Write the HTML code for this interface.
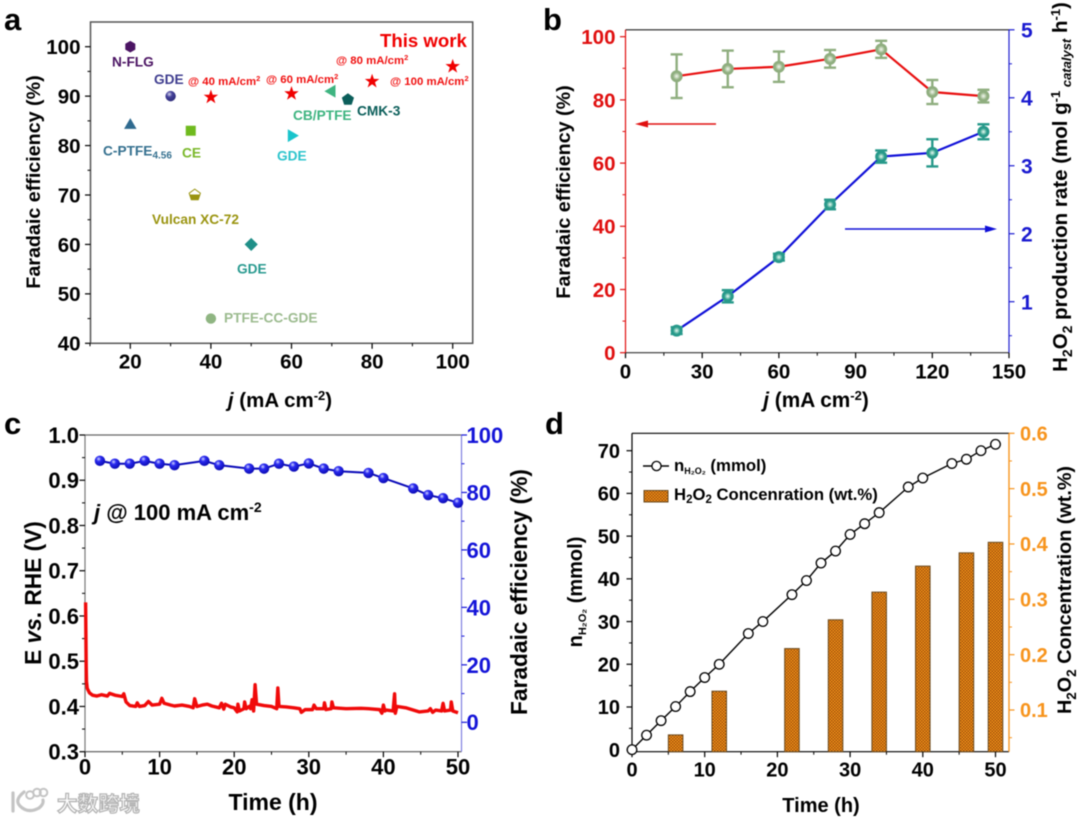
<!DOCTYPE html>
<html lang="en">
<head>
<meta charset="utf-8">
<title>H2O2 electrosynthesis performance figure</title>
<style>
html,body{margin:0;padding:0;background:#fff;}
#figure{display:block;width:1080px;height:822px;filter:blur(0.4px);font-family:"Liberation Sans","Noto Sans CJK SC",sans-serif;font-weight:bold;}
</style>
</head>
<body>
<svg id="figure" xmlns="http://www.w3.org/2000/svg" width="1080" height="822" viewBox="0 0 1080 822">
  <defs>
    <radialGradient id="ballBlue" cx="38%" cy="32%" r="70%"><stop offset="0" stop-color="#cfd4ff"/><stop offset="0.35" stop-color="#2a2af0"/><stop offset="1" stop-color="#0a0ab0"/></radialGradient>
    <radialGradient id="ballIndigo" cx="38%" cy="32%" r="70%"><stop offset="0" stop-color="#d8d8f0"/><stop offset="0.4" stop-color="#45429a"/><stop offset="1" stop-color="#2c2a78"/></radialGradient>
    <radialGradient id="ballSage" cx="50%" cy="50%" r="50%"><stop offset="0" stop-color="#f4f8f0"/><stop offset="0.3" stop-color="#c5d6ba"/><stop offset="0.62" stop-color="#8fae7f"/><stop offset="1" stop-color="#8fae7f"/></radialGradient>
    <radialGradient id="ballTeal" cx="50%" cy="50%" r="50%"><stop offset="0" stop-color="#eefaf6"/><stop offset="0.28" stop-color="#8fd0bf"/><stop offset="0.6" stop-color="#27998a"/><stop offset="1" stop-color="#27998a"/></radialGradient>
    <linearGradient id="halfFill" x1="0" y1="0" x2="0" y2="1"><stop offset="0.5" stop-color="#fff"/><stop offset="0.5" stop-color="#9a9410"/></linearGradient>
    <pattern id="barHatch" width="3" height="3" patternUnits="userSpaceOnUse"><rect width="3" height="3" fill="#f5951a"/><rect width="1.5" height="1.5" fill="#a0500a"/><rect x="1.5" y="1.5" width="1.5" height="1.5" fill="#a0500a"/></pattern>
  </defs>

  <g id="panel-a">
    <text x="4" y="30" font-size="31" fill="#000">a</text>
    <rect x="90.5" y="22" width="382.2" height="321.3" fill="none" stroke="#555" stroke-width="1.5"/>
    <text transform="translate(40,182) rotate(-90)" text-anchor="middle" font-size="19.7" fill="#000">Faradaic efficiency (%)</text>
    <text x="280" y="407" text-anchor="middle" font-size="20.5" fill="#000"><tspan font-style="italic">j</tspan> (mA cm<tspan dy="-7" font-size="13">-2</tspan><tspan dy="7">)</tspan></text>
    <g font-size="13.7">
      <text x="112" y="66.5" fill="#4b1463">N-FLG</text>
      <text x="154" y="84" fill="#3f3d8f">GDE</text>
      <text x="103" y="155.5" fill="#35708f">C-PTFE<tspan dy="3" font-size="10">4.56</tspan></text>
      <text x="182" y="157.5" fill="#7ab82a">CE</text>
      <text x="277" y="160.5" fill="#2dc4cc">GDE</text>
      <text x="152" y="224" fill="#9a9410">Vulcan XC-72</text>
      <text x="237" y="273.5" fill="#2a9a90">GDE</text>
      <text x="224" y="322.5" fill="#9cbb8f">PTFE-CC-GDE</text>
      <text x="293" y="120" fill="#3eb480">CB/PTFE</text>
      <text x="357" y="115.5" fill="#0b5e5a">CMK-3</text>
    </g>
    <text x="380" y="47" font-size="18.6" fill="#f00000">This work</text>
    <g font-size="11.4" fill="#f01010">
      <text x="188" y="85">@ 40 mA/cm<tspan dy="-4" font-size="7.5">2</tspan></text>
      <text x="266" y="83">@ 60 mA/cm<tspan dy="-4" font-size="7.5">2</tspan></text>
      <text x="336" y="64">@ 80 mA/cm<tspan dy="-4" font-size="7.5">2</tspan></text>
      <text x="390" y="85">@ 100 mA/cm<tspan dy="-4" font-size="7.5">2</tspan></text>
    </g>
  </g>

  <g id="panel-b">
    <text x="543" y="30" font-size="31" fill="#000">b</text>
    <line x1="625.5" y1="29.8" x2="1009" y2="29.8" stroke="#222" stroke-width="1.2"/>
    <line x1="625.5" y1="352.7" x2="1009" y2="352.7" stroke="#333" stroke-width="1.2"/>
    <line x1="625.5" y1="29.8" x2="625.5" y2="352.7" stroke="#e01010" stroke-width="1.2"/>
    <line x1="1009" y1="29.8" x2="1009" y2="352.7" stroke="#2020d0" stroke-width="1.2"/>
    <text transform="translate(570,192) rotate(-90)" text-anchor="middle" font-size="19.7" fill="#000">Faradaic efficiency (%)</text>
    <text x="816" y="407" text-anchor="middle" font-size="20.8" fill="#000"><tspan font-style="italic">j</tspan> (mA cm<tspan dy="-7" font-size="13">-2</tspan><tspan dy="7">)</tspan></text>
    <text transform="translate(1067,187) rotate(-90)" text-anchor="middle" font-size="20.5" fill="#000">H<tspan dy="5" font-size="14">2</tspan><tspan dy="-5">O</tspan><tspan dy="5" font-size="14">2</tspan><tspan dy="-5"> production rate (mol g</tspan><tspan dy="-7" font-size="13">-1</tspan><tspan dy="11" font-size="13" font-style="italic"> catalyst</tspan><tspan dy="-4"> h</tspan><tspan dy="-7" font-size="13">-1</tspan><tspan dy="7">)</tspan></text>
    <g>
      <line x1="716" y1="124" x2="645" y2="124" stroke="#e01010" stroke-width="1.5"/>
      <polygon points="635,124 648,120.5 648,127.5" fill="#e01010"/>
    </g>
    <g>
      <line x1="845" y1="229" x2="988" y2="229" stroke="#1010d8" stroke-width="1.5"/>
      <polygon points="997,229 985,225.5 985,232.5" fill="#1010d8"/>
    </g>
  </g>

  <g id="panel-c">
    <text x="4" y="434" font-size="31" fill="#000">c</text>
    <line x1="85" y1="435" x2="461.5" y2="435" stroke="#666" stroke-width="1.2"/>
    <line x1="85" y1="751.7" x2="461.5" y2="751.7" stroke="#555" stroke-width="1.2"/>
    <line x1="85" y1="435" x2="85" y2="751.7" stroke="#777" stroke-width="1.2"/>
    <line x1="461.5" y1="435" x2="461.5" y2="751.7" stroke="#8080e0" stroke-width="1.2"/>
    <text transform="translate(41,593) rotate(-90)" text-anchor="middle" font-size="22.7" fill="#000">E <tspan font-style="italic">vs</tspan>. RHE (V)</text>
    <text transform="translate(527,592) rotate(-90)" text-anchor="middle" font-size="22.7" fill="#000">Faradaic efficiency (%)</text>
    <text x="273" y="810" text-anchor="middle" font-size="23" fill="#000">Time (h)</text>
    <text x="94" y="520" font-size="22" fill="#000"><tspan font-style="italic">j</tspan> @ 100 mA cm<tspan dy="-8" font-size="14">-2</tspan></text>
  </g>

  <g id="panel-d">
    <text x="545" y="434" font-size="31" fill="#000">d</text>
    <line x1="632" y1="433.3" x2="1009" y2="433.3" stroke="#000" stroke-width="1.2"/>
    <line x1="632" y1="751.7" x2="1009" y2="751.7" stroke="#000" stroke-width="1.2"/>
    <line x1="632" y1="433.3" x2="632" y2="751.7" stroke="#000" stroke-width="1.2"/>
    <line x1="1009" y1="433.3" x2="1009" y2="751.7" stroke="#f7941d" stroke-width="1.4"/>
    <text transform="translate(582,592) rotate(-90)" text-anchor="middle" font-size="20" fill="#000">n<tspan dy="4" font-size="11">H₂O₂</tspan><tspan dy="-4"> (mmol)</tspan></text>
    <text transform="translate(1071,590) rotate(-90)" text-anchor="middle" font-size="19.8" fill="#000">H<tspan dy="5" font-size="13.5">2</tspan><tspan dy="-5">O</tspan><tspan dy="5" font-size="13.5">2</tspan><tspan dy="-5"> Concentration (wt.%)</tspan></text>
    <text x="821" y="812" text-anchor="middle" font-size="20" fill="#000">Time (h)</text>
    <g>
      <line x1="643" y1="466" x2="669" y2="466" stroke="#000" stroke-width="1.4"/>
      <circle cx="656.5" cy="466" r="4.6" fill="#fff" stroke="#000" stroke-width="1.3"/>
      <text x="674" y="471" font-size="16.8" fill="#000">n<tspan dy="3" font-size="9">H₂O₂</tspan><tspan dy="-3"> (mmol)</tspan></text>
    </g>
    <g>
      <rect x="644" y="490.5" width="24" height="11.5" fill="url(#barHatch)" stroke="#6a4a20" stroke-width="1"/>
      <text x="674" y="500" font-size="16.7" fill="#000">H<tspan dy="3" font-size="11.5">2</tspan><tspan dy="-3">O</tspan><tspan dy="3" font-size="11.5">2</tspan><tspan dy="-3"> Concenration (wt.%)</tspan></text>
    </g>
  </g>

  <g id="watermark">
    <g fill="none" stroke="#c4c4c4" stroke-width="3.2" stroke-linecap="round">
      <path d="M13 793 L13 811 M24 792 Q14 800 20 806 Q28 814 39 808 Q44 804 43 800"/>
      <circle cx="30" cy="795" r="3.8" stroke-width="2"/>
      <circle cx="37" cy="792.5" r="3.8" stroke-width="2"/>
      <circle cx="43.5" cy="792.5" r="3.8" stroke-width="2"/>
    </g>
    <text x="57" y="811" font-size="20.5" letter-spacing="0.3" fill="#fff" stroke="#b4b4b4" stroke-width="1.3" font-family="'Liberation Sans','Noto Sans CJK SC',sans-serif">大数跨境</text>
  </g>
</svg>

<script>
// ---- Panel a data ----
const aCategories = ['N-FLG', 'GDE indigo', 'C-PTFE', 'CE', 'Vulcan XC-72', 'GDE teal', 'GDE cyan', 'CB/PTFE', 'CMK-3', 'PTFE-CC-GDE'];
const aCurrent = [20, 30, 20, 35, 36, 50, 60, 70, 74, 40];
const aEfficiency = [100, 90, 84, 83, 70, 60, 82, 91, 89.3, 45];
const aWorkCurrent = [40, 60, 80, 100];
const aWorkEfficiency = [89.8, 90.5, 93, 96];
const aXTicks = [20, 40, 60, 80, 100];
const aXMinor = [10, 30, 50, 70, 90];
const aYTicks = [40, 50, 60, 70, 80, 90, 100];
const aYMinor = [45, 55, 65, 75, 85, 95];

// ---- Panel b data ----
const bCurrent = [20, 40, 60, 80, 100, 120, 140];
const bEfficiency = [87.5, 89.8, 90.5, 93, 96, 82.5, 81.2];
const bEfficiencyErr = [6.9, 5.8, 4.8, 2.8, 2.7, 3.8, 2];
const bRate = [0.575, 1.08, 1.655, 2.43, 3.135, 3.19, 3.5];
const bRateErr = [0.05, 0.09, 0.05, 0.07, 0.09, 0.2, 0.11];
const bXTicks = [0, 30, 60, 90, 120, 150];
const bXMinor = [15, 45, 75, 105, 135];
const bYTicks = [0, 20, 40, 60, 80, 100];
const bYMinor = [10, 30, 50, 70, 90];
const bRTicks = [1, 2, 3, 4, 5];
const bRMinor = [0.5, 1.5, 2.5, 3.5, 4.5];

// ---- Panel c data ----
const cTime = [0.08, 0.12, 0.16, 0.2, 0.3, 0.6, 1, 1.6, 2.2, 3, 3.3, 4, 5, 5.2, 5.5, 6, 6.8, 7, 7.3, 8, 8.5, 9, 10, 10.3, 10.6, 11.5, 12, 13, 14, 14.5, 14.7, 15, 15.7, 16.4, 17, 18, 18.3, 18.6, 18.8, 19.5, 20, 20.4, 20.5, 20.7, 21.3, 21.4, 21.6, 22, 22.2, 22.4, 22.6, 22.8, 23, 24, 25, 25.7, 25.85, 26, 27, 28, 28.8, 29, 29.5, 30.5, 30.7, 31, 32, 32.1, 32.3, 33, 33.1, 33.3, 35, 37, 38, 39.5, 39.8, 40, 40.2, 40.4, 41.3, 41.5, 41.6, 41.8, 43, 44.8, 46, 46.3, 46.6, 47, 47.8, 48, 48.2, 49, 49.1, 49.3, 50];
const cPotential = [0.63, 0.56, 0.49, 0.455, 0.44, 0.43, 0.425, 0.423, 0.426, 0.423, 0.429, 0.425, 0.422, 0.428, 0.41, 0.402, 0.4, 0.408, 0.4, 0.402, 0.411, 0.403, 0.405, 0.418, 0.407, 0.403, 0.401, 0.403, 0.4, 0.397, 0.417, 0.4, 0.403, 0.405, 0.401, 0.397, 0.407, 0.394, 0.405, 0.399, 0.397, 0.388, 0.405, 0.39, 0.395, 0.41, 0.395, 0.4, 0.395, 0.415, 0.39, 0.448, 0.405, 0.402, 0.4, 0.395, 0.441, 0.4, 0.399, 0.397, 0.395, 0.387, 0.393, 0.393, 0.403, 0.395, 0.395, 0.408, 0.393, 0.395, 0.41, 0.397, 0.395, 0.396, 0.395, 0.393, 0.385, 0.403, 0.39, 0.392, 0.39, 0.428, 0.385, 0.4, 0.397, 0.388, 0.39, 0.395, 0.387, 0.392, 0.39, 0.407, 0.39, 0.392, 0.41, 0.39, 0.386];
const cEffTime = [2, 4, 6, 8, 10, 12, 16, 18, 22, 24, 26, 28, 30, 32, 34, 38, 40, 44, 46, 48, 50];
const cEfficiency = [91, 90, 90, 91, 90, 89.5, 91, 89.5, 88.3, 88.3, 90, 89, 90.1, 88.3, 87.4, 86.8, 85, 81.4, 79.1, 78, 76.4];
const cXTicks = [0, 10, 20, 30, 40, 50];
const cXMinor = [5, 15, 25, 35, 45];
const cYTicks = ['0.3', '0.4', '0.5', '0.6', '0.7', '0.8', '0.9', '1.0'];
const cYMinor = [0.35, 0.45, 0.55, 0.65, 0.75, 0.85, 0.95];
const cRTicks = [0, 20, 40, 60, 80, 100];
const cRMinor = [10, 30, 50, 70, 90];

// ---- Panel d data ----
const dTime = [0, 2, 4, 6, 8, 10, 12, 16, 18, 22, 24, 26, 28, 30, 32, 34, 38, 40, 44, 46, 48, 50];
const dAmount = [0, 3.4, 6.8, 10.1, 13.6, 16.9, 20, 27.2, 30, 36.3, 39.6, 43.7, 46.5, 50.4, 52.9, 55.5, 61.5, 63.6, 67, 68, 70, 71.5];
const dBarTime = [6, 12, 22, 28, 34, 40, 46, 50];
const dConcentration = [0.055, 0.134, 0.211, 0.263, 0.313, 0.36, 0.384, 0.403];
const dXTicks = [0, 10, 20, 30, 40, 50];
const dXMinor = [5, 15, 25, 35, 45];
const dYTicks = [0, 10, 20, 30, 40, 50, 60, 70];
const dYMinor = [5, 15, 25, 35, 45, 55, 65];
const dRTicks = ['0.1', '0.2', '0.3', '0.4', '0.5', '0.6'];
const dRMinor = [0.05, 0.15, 0.25, 0.35, 0.45, 0.55];

const SVG_NS = 'http://www.w3.org/2000/svg';

function linear(d0, d1, r0, r1) {
  return function (v) { return r0 + (Number(v) - d0) * (r1 - r0) / (d1 - d0); };
}

function make(tag, attrs, parent) {
  const node = document.createElementNS(SVG_NS, tag);
  Object.keys(attrs).forEach(function (k) { node.setAttribute(k, attrs[k]); });
  parent.appendChild(node);
  return node;
}

function polygonPoints(cx, cy, n, r, startDeg) {
  const pts = [];
  for (let i = 0; i < n; i++) {
    const a = (startDeg + i * 360 / n) * Math.PI / 180;
    pts.push((cx + r * Math.cos(a)).toFixed(2) + ',' + (cy + r * Math.sin(a)).toFixed(2));
  }
  return pts.join(' ');
}

function starPoints(cx, cy, R, r) {
  const pts = [];
  for (let i = 0; i < 10; i++) {
    const a = (-90 + i * 36) * Math.PI / 180;
    const rad = i % 2 === 0 ? R : r;
    pts.push((cx + rad * Math.cos(a)).toFixed(2) + ',' + (cy + rad * Math.sin(a)).toFixed(2));
  }
  return pts.join(' ');
}

function pathFrom(xs, ys, xScale, yScale) {
  return xs.map(function (x, i) {
    return (i === 0 ? 'M' : 'L') + xScale(x).toFixed(2) + ' ' + yScale(ys[i]).toFixed(2);
  }).join(' ');
}

function drawAxis(parent, name, scale, orient, pos, majors, minors, color, fontSize, labelGap) {
  const g = make('g', {}, parent);
  
  
  const dir = orient === 'left' ? -1 : 1;
  majors.forEach(function (value) {
    const p = scale(value);
    const tick = orient === 'bottom'
      ? make('line', { x1: p, x2: p, y1: pos, y2: pos + 5.5, stroke: color, 'stroke-width': 1.2 }, g)
      : make('line', { x1: pos, x2: pos + dir * 5.5, y1: p, y2: p, stroke: color, 'stroke-width': 1.2 }, g);
    
    
    const label = orient === 'bottom'
      ? make('text', { x: p, y: pos + labelGap, 'text-anchor': 'middle', 'font-size': fontSize, fill: color }, g)
      : make('text', { x: pos + dir * labelGap, y: p + fontSize * 0.36, 'text-anchor': orient === 'left' ? 'end' : 'start', 'font-size': fontSize, fill: color }, g);
    label.textContent = String(value);
    
    
  });
  minors.forEach(function (value) {
    const p = scale(value);
    const tick = orient === 'bottom'
      ? make('line', { x1: p, x2: p, y1: pos, y2: pos + 3, stroke: color, 'stroke-width': 1 }, g)
      : make('line', { x1: pos, x2: pos + dir * 3, y1: p, y2: p, stroke: color, 'stroke-width': 1 }, g);
    
    
  });
}

function drawErrorBars(parent, name, xs, ys, errs, xScale, yScale, color) {
  xs.forEach(function (x, i) {
    const g = make('g', { stroke: color, 'stroke-width': 2.4, fill: 'none' }, parent);
    
    
    const px = xScale(x);
    const hi = yScale(ys[i] + errs[i]);
    const lo = yScale(ys[i] - errs[i]);
    make('line', { x1: px, x2: px, y1: hi, y2: lo }, g);
    make('line', { x1: px - 6, x2: px + 6, y1: hi, y2: hi }, g);
    make('line', { x1: px - 6, x2: px + 6, y1: lo, y2: lo }, g);
  });
}

// ---- Panel a ----
(function () {
  const panel = document.getElementById('panel-a');
  const x = linear(20, 100, 130.3, 452.7);
  const y = linear(40, 100, 343.3, 46.7);
  drawAxis(panel, 'x-axis-a', x, 'bottom', 343.3, aXTicks, aXMinor, '#000', 20.5, 25);
  drawAxis(panel, 'y-axis-a', y, 'left', 90.5, aYTicks, aYMinor, '#000', 20.5, 10);
  aCategories.forEach(function (cat, i) {
    const cx = x(aCurrent[i]);
    const cy = y(aEfficiency[i]);
    let m;
    if (cat === 'N-FLG') m = make('polygon', { points: polygonPoints(cx, cy, 6, 5.8, 90), fill: '#4b1463' }, panel);
    else if (cat === 'GDE indigo') m = make('circle', { cx: cx, cy: cy, r: 5.2, fill: 'url(#ballIndigo)' }, panel);
    else if (cat === 'C-PTFE') m = make('polygon', { points: polygonPoints(cx, cy - 0.5, 3, 7.2, -90), fill: '#2f6a8f' }, panel);
    else if (cat === 'CE') m = make('rect', { x: cx - 5, y: cy - 5, width: 10, height: 10, fill: '#6fba1e' }, panel);
    else if (cat === 'Vulcan XC-72') m = make('polygon', { points: polygonPoints(cx, cy, 5, 5.9, -90), fill: 'url(#halfFill)', stroke: '#9a9410', 'stroke-width': 1 }, panel);
    else if (cat === 'GDE teal') m = make('polygon', { points: polygonPoints(cx, cy, 4, 6.6, 0), fill: '#1f8f88' }, panel);
    else if (cat === 'GDE cyan') m = make('polygon', { points: polygonPoints(cx, cy, 3, 7.4, 0), fill: '#19c4cc' }, panel);
    else if (cat === 'CB/PTFE') m = make('polygon', { points: polygonPoints(cx, cy, 3, 7.4, 180), fill: '#3eb480' }, panel);
    else if (cat === 'CMK-3') m = make('polygon', { points: polygonPoints(cx, cy, 5, 6.4, -90), fill: '#0b5e5a' }, panel);
    else m = make('circle', { cx: cx, cy: cy, r: 5.2, fill: '#8fb582' }, panel);
    
    
  });
  aWorkCurrent.forEach(function (v, i) {
    const star = make('polygon', { points: starPoints(x(v), y(aWorkEfficiency[i]), 7.6, 3), fill: '#f00000' }, panel);
    
    
  });
})();

// ---- Panel b ----
(function () {
  const panel = document.getElementById('panel-b');
  const x = linear(0, 150, 625.5, 1009);
  const y = linear(0, 100, 352.7, 36.7);
  const r = linear(1, 5, 301.7, 29.8);
  drawAxis(panel, 'x-axis-b', x, 'bottom', 352.7, bXTicks, bXMinor, '#000', 20.5, 26);
  drawAxis(panel, 'y-axis-b-left', y, 'left', 625.5, bYTicks, bYMinor, '#e01010', 20.5, 10);
  drawAxis(panel, 'y-axis-b-right', r, 'right', 1009, bRTicks, bRMinor, '#1a1ad0', 21, 12);
  const lineA = make('path', { d: pathFrom(bCurrent, bEfficiency, x, y), fill: 'none', stroke: '#e81010', 'stroke-width': 2.2 }, panel);
  
  
  const lineB = make('path', { d: pathFrom(bCurrent, bRate, x, r), fill: 'none', stroke: '#1010d8', 'stroke-width': 2.2 }, panel);
  
  
  drawErrorBars(panel, 'efficiency-error-bar', bCurrent, bEfficiency, bEfficiencyErr, x, y, '#8fae7f');
  drawErrorBars(panel, 'rate-error-bar', bCurrent, bRate, bRateErr, x, r, '#27998a');
  bCurrent.forEach(function (v, i) {
    const a = make('circle', { cx: x(v), cy: y(bEfficiency[i]), r: 6, fill: 'url(#ballSage)' }, panel);
    
    
    const b = make('circle', { cx: x(v), cy: r(bRate[i]), r: 6, fill: 'url(#ballTeal)' }, panel);
    
    
  });
})();

// ---- Panel c ----
(function () {
  const panel = document.getElementById('panel-c');
  const x = linear(0, 50, 85, 458);
  const y = linear(0.3, 1, 751.7, 435);
  const r = linear(0, 100, 722.3, 435);
  drawAxis(panel, 'x-axis-c', x, 'bottom', 751.7, cXTicks, cXMinor, '#000', 22, 23);
  drawAxis(panel, 'y-axis-c-left', y, 'left', 85, cYTicks, cYMinor, '#000', 22, 6);
  drawAxis(panel, 'y-axis-c-right', r, 'right', 461.5, cRTicks, cRMinor, '#1414d8', 22, 5);
  const trace = make('path', { d: pathFrom(cTime, cPotential, x, y), fill: 'none', stroke: '#f00a0a', 'stroke-width': 3.4, 'stroke-linejoin': 'round' }, panel);
  
  
  const line = make('path', { d: pathFrom(cEffTime, cEfficiency, x, r), fill: 'none', stroke: '#0a0ab8', 'stroke-width': 2 }, panel);
  
  
  cEffTime.forEach(function (v, i) {
    const ball = make('circle', { cx: x(v), cy: r(cEfficiency[i]), r: 5.2, fill: 'url(#ballBlue)' }, panel);
    
    
  });
})();

// ---- Panel d ----
(function () {
  const panel = document.getElementById('panel-d');
  const x = linear(0, 50, 632, 995.5);
  const y = linear(0, 70, 749.7, 450.7);
  const r = linear(0.1, 0.6, 710, 433.3);
  const base = 751.7;
  const barWidth = x(2) - x(0);
  dBarTime.forEach(function (v, i) {
    const top = r(dConcentration[i]);
    const bar = make('rect', { x: x(v) - barWidth / 2, y: top, width: barWidth, height: base - top, fill: 'url(#barHatch)', stroke: '#6a4a20', 'stroke-width': 1 }, panel);
    
    
  });
  drawAxis(panel, 'x-axis-d', x, 'bottom', base, dXTicks, dXMinor, '#000', 20, 25);
  drawAxis(panel, 'y-axis-d-left', y, 'left', 632, dYTicks, dYMinor, '#000', 20, 12);
  drawAxis(panel, 'y-axis-d-right', r, 'right', 1009, dRTicks, dRMinor, '#f7941d', 20, 11);
  const line = make('path', { d: pathFrom(dTime, dAmount, x, y), fill: 'none', stroke: '#000', 'stroke-width': 1.4 }, panel);
  
  
  dTime.forEach(function (v, i) {
    const dot = make('circle', { cx: x(v), cy: y(dAmount[i]), r: 4.8, fill: '#fff', stroke: '#000', 'stroke-width': 1.3 }, panel);
    
    
  });
})();
</script>
</body>
</html>
